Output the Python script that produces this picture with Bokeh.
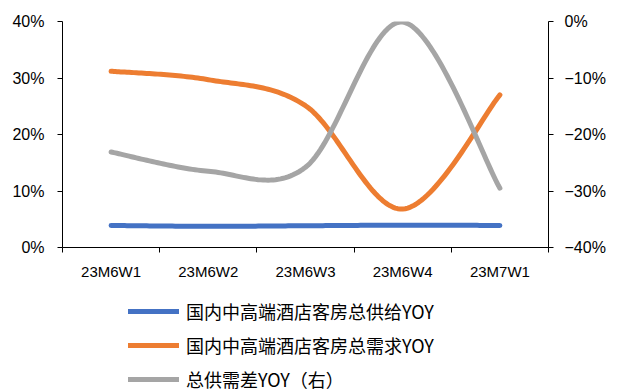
import numpy as np
from bokeh.plotting import figure
from bokeh.layouts import column
from bokeh.models import (Range1d, LinearAxis, FixedTicker, CustomJSTickFormatter,
                          Legend, LegendItem)
from bokeh.embed import file_html
from bokeh.resources import INLINE

# ---- data ----
categories = ["23M6W1", "23M6W2", "23M6W3", "23M6W4", "23M7W1"]
supply_yoy = [3.9, 3.75, 3.85, 3.95, 3.9]          # left axis, %
demand_yoy = [31.2, 29.7, 25.1, 6.8, 27.0]         # left axis, %
gap_yoy = [-23.1, -26.5, -25.8, -0.1, -29.5]       # right axis, %
left_ticks = [0, 10, 20, 30, 40]
right_ticks = [-40, -30, -20, -10, 0]
legend_labels = ["国内中高端酒店客房总供给YOY", "国内中高端酒店客房总需求YOY", "总供需差YOY（右）"]

BLUE, ORANGE, GRAY = "#4472C4", "#ED7D31", "#A5A5A5"
COLORS = [BLUE, ORANGE, GRAY]
FONT = "Liberation Sans"


def smooth(xs, ys, n=40):
    """Excel-like smoothed line (Catmull-Rom as cubic Bezier)."""
    P = np.column_stack([np.asarray(xs, float), np.asarray(ys, float)])
    P = np.vstack([P[0], P, P[-1]])
    t = np.linspace(0, 1, n)[:, None]
    out = []
    for i in range(1, len(P) - 2):
        p0, p1, p2, p3 = P[i - 1], P[i], P[i + 1], P[i + 2]
        c1 = p1 + (p2 - p0) / 6.0
        c2 = p2 - (p3 - p1) / 6.0
        seg = ((1 - t) ** 3) * p1 + 3 * ((1 - t) ** 2) * t * c1 + 3 * (1 - t) * t ** 2 * c2 + t ** 3 * p2
        out.append(seg if i == 1 else seg[1:])
    out = np.vstack(out)
    return out[:, 0], out[:, 1]


xpos = [i + 0.5 for i in range(len(categories))]

p = figure(width=621, height=290, output_backend="svg", toolbar_location=None,
           x_range=Range1d(0, len(categories)), y_range=Range1d(0, 40),
           min_border_left=62, min_border_right=73, min_border_top=21, min_border_bottom=43)
p.extra_y_ranges = {"right": Range1d(-40, 0)}
p.grid.visible = False
p.outline_line_color = None
p.background_fill_color = "white"
p.border_fill_color = "white"

# x axis
xa = p.xaxis[0]
xa.ticker = FixedTicker(ticks=xpos, minor_ticks=list(range(len(categories) + 1)))
xa.formatter = CustomJSTickFormatter(args=dict(cats=categories),
                                     code="return cats[Math.round(tick - 0.5)];")
xa.major_tick_line_color = None
xa.major_tick_out = 5
xa.major_tick_in = 0
xa.minor_tick_line_color = "black"
xa.minor_tick_out = 5
xa.minor_tick_in = 0
xa.axis_line_color = "black"
xa.major_label_text_font = FONT
xa.major_label_text_font_size = "15px"
xa.major_label_text_color = "black"
xa.major_label_standoff = 10

# left axis
ya = p.yaxis[0]
ya.ticker = FixedTicker(ticks=left_ticks)
ya.formatter = CustomJSTickFormatter(code="return Math.round(tick) + '%';")
ya.minor_tick_line_color = None
ya.major_tick_out = 5
ya.major_tick_in = 0
ya.axis_line_color = "black"
ya.major_tick_line_color = "black"
ya.major_label_text_font = FONT
ya.major_label_text_font_size = "16px"
ya.major_label_text_color = "black"
ya.major_label_standoff = 13

# right axis
ra = LinearAxis(y_range_name="right", ticker=FixedTicker(ticks=right_ticks),
                formatter=CustomJSTickFormatter(
                    code="var v = Math.round(tick); return (v < 0 ? '\u2212' : '') + Math.abs(v) + '%';"))
ra.minor_tick_line_color = None
ra.major_tick_out = 5
ra.major_tick_in = 0
ra.axis_line_color = "black"
ra.major_tick_line_color = "black"
ra.major_label_text_font = FONT
ra.major_label_text_font_size = "16px"
ra.major_label_text_color = "black"
ra.major_label_standoff = 11
p.add_layout(ra, "right")

for vals, color, rng in [(supply_yoy, BLUE, "default"), (demand_yoy, ORANGE, "default"),
                         (gap_yoy, GRAY, "right")]:
    sx, sy = smooth(xpos, vals)
    p.line(sx, sy, line_color=color, line_width=5, line_cap="round", line_join="round",
           y_range_name=rng)

# ---- legend panel below the chart ----
lg = figure(width=621, height=102, output_backend="svg", toolbar_location=None,
            x_range=Range1d(0, 1), y_range=Range1d(0, 1),
            min_border_left=0, min_border_right=0, min_border_top=0, min_border_bottom=0)
lg.axis.visible = False
lg.grid.visible = False
lg.outline_line_color = None
lg.background_fill_color = "white"
lg.border_fill_color = "white"
keys = []
for color in COLORS:
    keys.append(lg.line(x=[np.nan, np.nan], y=[np.nan, np.nan], line_color=color,
                        line_width=5, line_cap="round"))

legend = Legend(items=[LegendItem(label=lab, renderers=[r]) for lab, r in zip(legend_labels, keys)],
                location=(66, 0), orientation="vertical",
                glyph_width=51, glyph_height=26, label_height=26, spacing=8,
                padding=0, margin=0, border_line_color=None, background_fill_alpha=0,
                label_text_font="Noto Sans CJK SC", label_text_font_size="18px",
                label_text_color="black", label_standoff=7)
lg.add_layout(legend, "center")

layout = column(p, lg, spacing=0)
open("out.html", "w").write(file_html(layout, INLINE))
